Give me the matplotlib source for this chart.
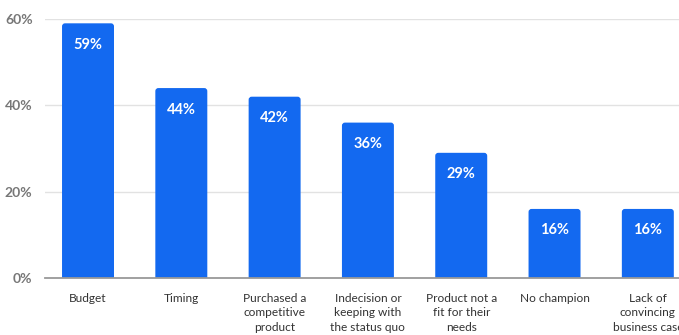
import matplotlib
matplotlib.use("Agg")
import matplotlib.pyplot as plt
from matplotlib.patches import FancyBboxPatch

categories = [
    "Budget",
    "Timing",
    "Purchased a\ncompetitive\nproduct",
    "Indecision or\nkeeping with\nthe status quo",
    "Product not a\nfit for their\nneeds",
    "No champion",
    "Lack of\nconvincing\nbusiness case",
]
values = [59, 44, 42, 36, 29, 16, 16]
y_ticks = [0, 20, 40, 60]
y_tick_labels = ["0%", "20%", "40%", "60%"]

plt.rcParams["font.family"] = ["Lato", "DejaVu Sans"]

fig = plt.figure(figsize=(6.79, 3.35), dpi=100)
W, H = 679, 335
left_px, bottom_px, top_px = 45, 278, 19
ax = fig.add_axes([left_px / W, (H - bottom_px) / H, (W - left_px) / W, (bottom_px - top_px) / H])

bar_color = "#1369F0"
bar_width = 0.557
x = list(range(len(categories)))
bars = ax.bar(x, values, width=bar_width, color=bar_color, zorder=3)

ax.set_xlim(-0.461, 6.334)
ax.set_ylim(0, 60)

# Replace the square bars with ones that have slightly rounded tops
px_per_x = (W - left_px) / (6.334 + 0.461)
px_per_y = (bottom_px - top_px) / 60
radius_px = 3
rx = radius_px / px_per_x
aspect = (radius_px / px_per_y) / rx
for rect in bars:
    x0, w, h = rect.get_x(), rect.get_width(), rect.get_height()
    rect.set_visible(False)
    patch = FancyBboxPatch((x0, -2), w, h + 2,
                           boxstyle=f"round,pad=0,rounding_size={rx}",
                           mutation_aspect=aspect,
                           facecolor=bar_color, edgecolor="none", zorder=3)
    ax.add_patch(patch)

for rect, v in zip(bars, values):
    ax.annotate(f"{v}%", (rect.get_x() + rect.get_width() / 2, v),
                xytext=(0, -15.5), textcoords="offset points",
                ha="center", va="center", color="white",
                fontsize=10.5, fontweight="bold", zorder=4)

ax.set_yticks(y_ticks)
ax.set_yticklabels(y_tick_labels, color="#777777", fontsize=10, fontweight="bold")
ax.set_xticks(x)
ax.set_xticklabels(categories, color="#333333", fontsize=8.6, linespacing=1.35, va="top")

ax.tick_params(axis="y", length=0, pad=9)
ax.tick_params(axis="x", length=0, pad=11)
ax.grid(axis="y", color="#e2e2e2", linewidth=1, zorder=0)
for s in ["top", "right", "left"]:
    ax.spines[s].set_visible(False)
ax.spines["bottom"].set_color("#999999")
ax.spines["bottom"].set_linewidth(1.3)
ax.spines["bottom"].set_zorder(5)

fig.savefig("out.png", dpi=100)
